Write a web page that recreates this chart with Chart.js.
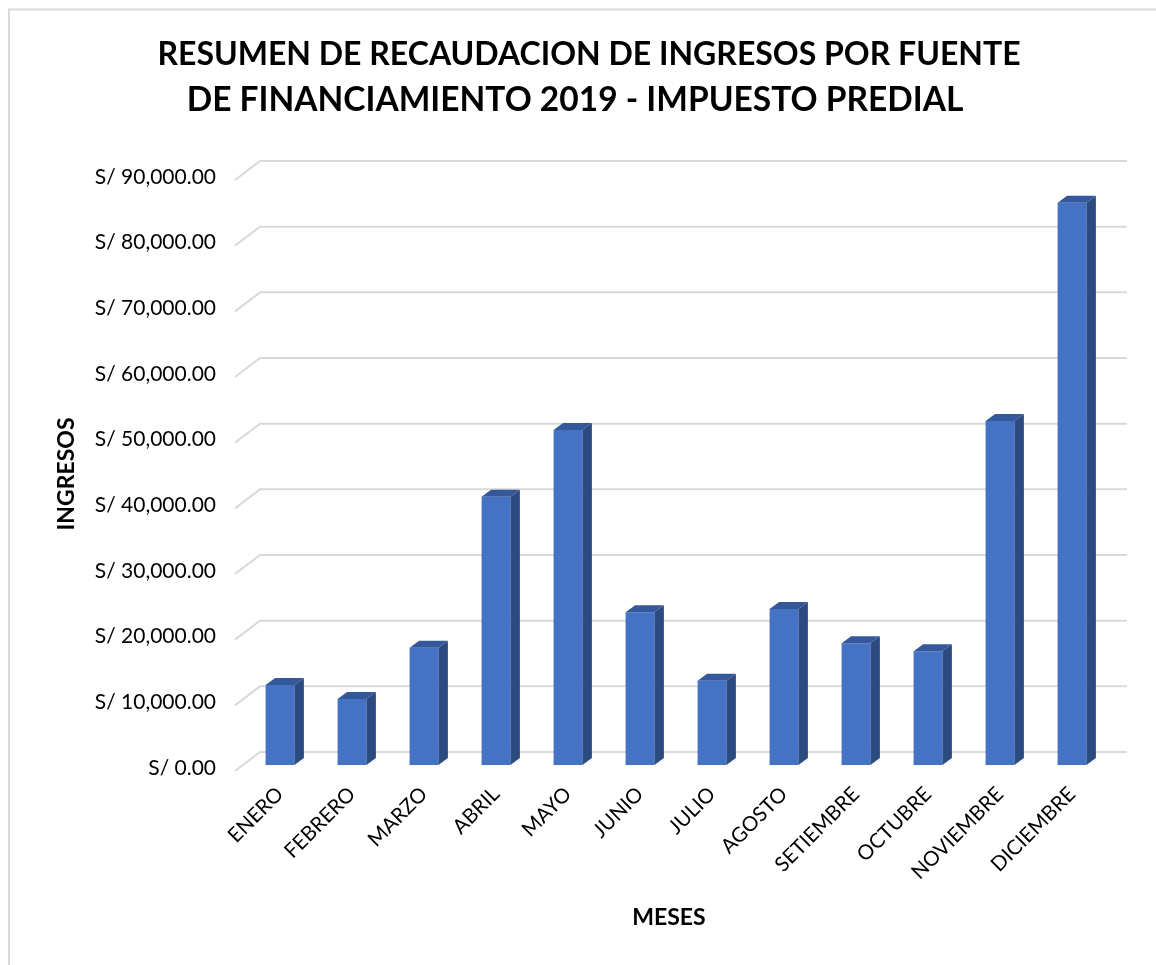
<!DOCTYPE html>
<html>
<head>
<meta charset="utf-8">
<script src="https://cdn.jsdelivr.net/npm/chart.js@4.4.1/dist/chart.umd.min.js"></script>
<style>
  html, body { margin: 0; padding: 0; background: #ffffff; }
  #wrap { width: 1156px; height: 965px; position: relative; }
</style>
</head>
<body>
<div id="wrap"><canvas id="c" width="1156" height="965"></canvas></div>
<script>
// ---- data ----
const categories = ['ENERO', 'FEBRERO', 'MARZO', 'ABRIL', 'MAYO', 'JUNIO', 'JULIO', 'AGOSTO', 'SETIEMBRE', 'OCTUBRE', 'NOVIEMBRE', 'DICIEMBRE'];
const ingresos = [12180, 10050, 17860, 40860, 51010, 23250, 12840, 23750, 18530, 17310, 52380, 85630];
const yMin = 0;
const yMax = 90000;
const yStep = 10000;
const titleLines = ['RESUMEN DE RECAUDACION DE INGRESOS POR FUENTE', 'DE FINANCIAMIENTO 2019 - IMPUESTO PREDIAL'];
const yAxisTitle = 'INGRESOS';
const xAxisTitle = 'MESES';
const currencyPrefix = 'S/ ';

// ---- style ----
const FONT = 'Lato, "Open Sans", sans-serif';
const FRONT = '#4472c4';
const SIDE = '#2c4a80';
const TOP = '#34589a';
const GRID = '#d9d9d9';
const DEPTH_DX = 9.5, DEPTH_DY = -7;

function fmt(v) {
  return currencyPrefix + Number(v).toLocaleString('en-US', { minimumFractionDigits: 2, maximumFractionDigits: 2 });
}

const frame = {
  id: 'frame',
  beforeDraw(chart) {
    const ctx = chart.ctx;
    ctx.save();
    ctx.fillStyle = '#ffffff';
    ctx.fillRect(0, 0, chart.width, chart.height);
    ctx.strokeStyle = '#d9d9d9';
    ctx.lineWidth = 2;
    ctx.strokeRect(9, 9.5, chart.width + 20, chart.height + 20);
    ctx.restore();
  }
};

const grid3d = {
  id: 'grid3d',
  beforeDatasetsDraw(chart) {
    const ctx = chart.ctx, ys = chart.scales.y, a = chart.chartArea;
    ctx.save();
    ctx.strokeStyle = GRID;
    ctx.lineWidth = 2;
    ys.ticks.forEach(t => {
      const py = ys.getPixelForValue(t.value);
      ctx.beginPath();
      ctx.moveTo(a.left - 9, py + 6);
      ctx.lineTo(a.left + 16, py - 13);
      ctx.lineTo(a.right + 19, py - 13);
      ctx.stroke();
    });
    ctx.restore();
  }
};

const bars3d = {
  id: 'bars3d',
  afterDatasetsDraw(chart) {
    const ctx = chart.ctx;
    const meta = chart.getDatasetMeta(0);
    ctx.save();
    meta.data.forEach(bar => {
      const p = bar.getProps(['x', 'y', 'base', 'width'], true);
      const l = p.x - p.width / 2, r = p.x + p.width / 2, t = p.y, b = p.base;
      ctx.fillStyle = SIDE;
      ctx.beginPath();
      ctx.moveTo(r, t); ctx.lineTo(r + DEPTH_DX, t + DEPTH_DY);
      ctx.lineTo(r + DEPTH_DX, b + DEPTH_DY); ctx.lineTo(r, b);
      ctx.closePath(); ctx.fill();
      ctx.fillStyle = TOP;
      ctx.beginPath();
      ctx.moveTo(l, t); ctx.lineTo(l + DEPTH_DX, t + DEPTH_DY);
      ctx.lineTo(r + DEPTH_DX, t + DEPTH_DY); ctx.lineTo(r, t);
      ctx.closePath(); ctx.fill();
    });
    ctx.restore();
  }
};

function fitFont(ctx, text, weight, target) {
  ctx.font = weight + ' 100px ' + FONT;
  const w = ctx.measureText(text).width;
  return weight + ' ' + (100 * target / w).toFixed(1) + 'px ' + FONT;
}

const texts = {
  id: 'texts',
  afterDraw(chart) {
    const ctx = chart.ctx;
    ctx.save();
    ctx.fillStyle = '#000000';
    ctx.textAlign = 'center';
    ctx.textBaseline = 'middle';
    // title lines, each fitted to the reference line width
    ctx.font = fitFont(ctx, titleLines[0], 'bold', 862);
    ctx.fillText(titleLines[0], 589, 55);
    ctx.font = fitFont(ctx, titleLines[1], 'bold', 777);
    ctx.fillText(titleLines[1], 575, 100);
    // axis titles
    ctx.font = 'bold 23px ' + FONT;
    ctx.fillText(xAxisTitle, 669, 918);
    ctx.translate(67, 474);
    ctx.rotate(-Math.PI / 2);
    ctx.fillText(yAxisTitle, 0, 0);
    ctx.restore();
  }
};

new Chart(document.getElementById('c'), {
  type: 'bar',
  data: {
    labels: categories,
    datasets: [{
      data: ingresos,
      backgroundColor: FRONT,
      borderWidth: 0,
      barPercentage: 0.8,
      categoryPercentage: 0.5
    }]
  },
  options: {
    responsive: false,
    animation: false,
    events: [],
    layout: { padding: { top: 174, left: 40, right: 48, bottom: 0 } },
    plugins: { legend: { display: false }, title: { display: false }, tooltip: { enabled: false } },
    scales: {
      x: {
        grid: { display: false, drawTicks: false },
        border: { display: false },
        ticks: {
          color: '#000000',
          font: { family: FONT, size: 20.5 },
          minRotation: 45, maxRotation: 45,
          padding: 17,
          autoSkip: false
        },
        afterFit(s) { s.height = 200; }
      },
      y: {
        min: yMin, max: yMax,
        grid: { display: false, drawTicks: false },
        border: { display: false },
        ticks: {
          stepSize: yStep,
          color: '#000000',
          font: { family: FONT, size: 21 },
          padding: 28,
          labelOffset: 3,
          callback: v => fmt(v)
        },
        afterFit(s) { s.width = 204; }
      }
    }
  },
  plugins: [frame, grid3d, bars3d, texts]
});
</script>
</body>
</html>
